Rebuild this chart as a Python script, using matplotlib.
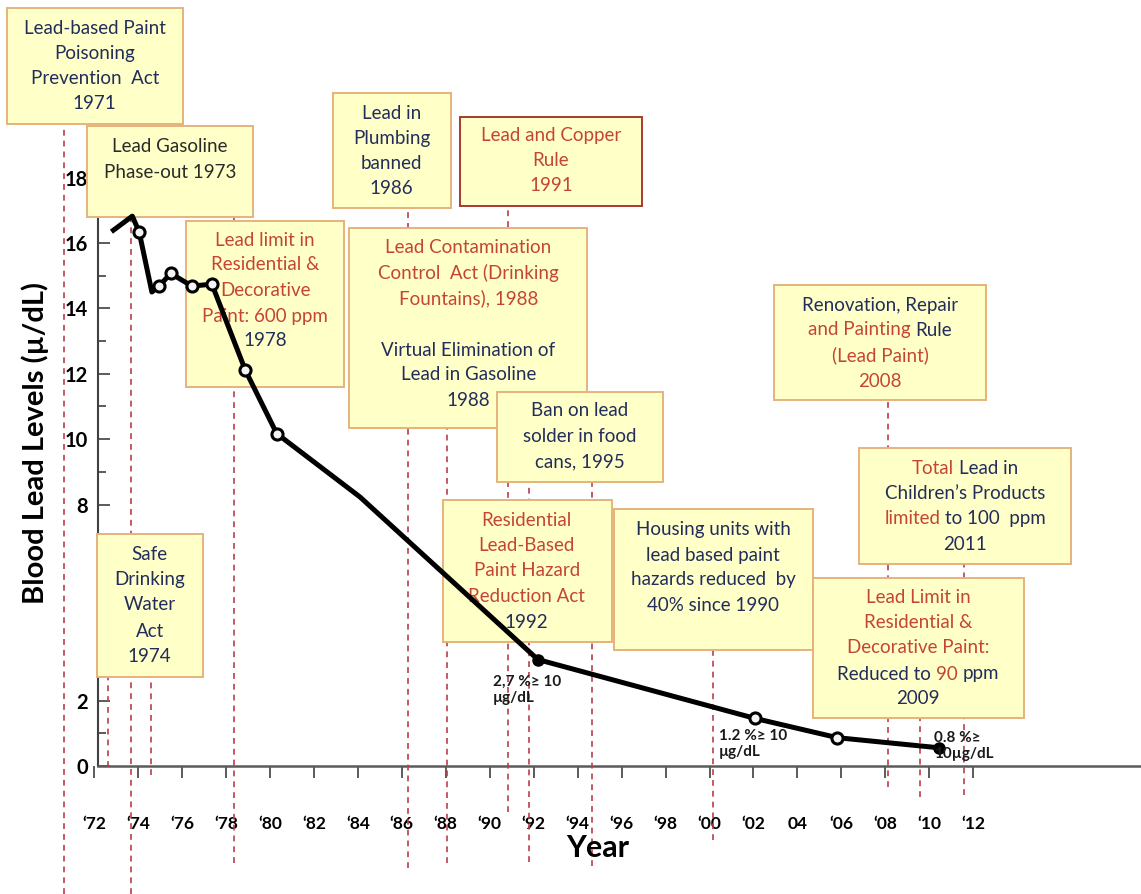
import matplotlib
matplotlib.use('Agg')
import matplotlib.pyplot as plt
import matplotlib.transforms as mtransforms
from matplotlib.patches import Rectangle

plt.rcParams['font.family'] = ['Lato', 'DejaVu Sans']

W, H = 1141, 894

# blood lead level (ug/dL)
years = [1972.88, 1973.74, 1974.05, 1974.63, 1974.97, 1975.49, 1976.45, 1977.36,
         1978.88, 1980.31, 1984.10, 1992.19, 2002.07, 2005.82, 2010.46]
lead = [16.39, 16.82, 16.34, 14.50, 14.69, 15.07, 14.68, 14.74,
        12.11, 10.17, 8.23, 3.26, 1.46, 0.87, 0.56]
ring_idx = [2, 4, 5, 6, 7, 8, 9, 12, 13]
dot_idx = [11, 14]

tick_years = list(range(1972, 2013, 2))
tick_labels = ['\u201872', '\u201874', '\u201876', '\u201878', '\u201880', '\u201882',
               '\u201884', '\u201886', '\u201888', '\u201890', '\u201892', '\u201894',
               '\u201896', '\u201898', '\u201800', '\u201802', '04', '\u201806',
               '\u201808', '\u201810', '\u201812']
y_ticks = [0, 2, 4, 6, 8, 10, 12, 14, 16, 18]
y_labels = ['0', '2', '', '', '8', '10', '12', '14', '16', '18']
y_minor = [1, 3, 5, 7, 9, 11, 13, 15, 17]

# dashed event lines: year, top and bottom (in ug/dL units)
event_x = [1970.64, 1973.69, 1972.64, 1974.60, 1978.37, 1986.29, 1988.06, 1990.84,
           1991.79, 1994.66, 2000.16, 2008.12, 2009.58, 2011.58]
event_top = [19.69, 16.79, 2.78, 2.78, 16.79, 17.09, 10.34, 17.09,
             8.72, 8.72, 3.55, 11.19, 1.47, 6.21]
event_bot = [-3.91, -3.91, -0.03, -0.28, -2.97, -3.12, -2.97, -1.41,
             -2.94, -3.06, -2.26, -0.64, -0.95, -0.89]

pct_labels = ['2,7 %\u2265 10\n\u00b5g/dL', '1.2 %\u2265 10\n\u00b5g/dL', '0.8 %\u2265\n10\u00b5g/dL']
pct_pos = [(493, 690), (719, 744), (934, 746)]

NAVY = '#222d5c'
RED = '#c5443a'
DARK = '#2a2a2a'
FILL = '#ffffc8'
EDGE = '#e6b27c'

# boxes: (left, top, right, bottom) in picture pixels, then lines (y, parts)
boxes = [
    ((6.7, 8.3, 182.7, 124), EDGE, 94.7,
     [(28.3, [('Lead-based Paint', NAVY)]), (53.3, [('Poisoning', NAVY)]),
      (78.3, [('Prevention  Act', NAVY)]), (103.3, [('1971', NAVY)])]),
    ((87.3, 126, 253.3, 217.3), EDGE, 170,
     [(146.7, [('Lead Gasoline', DARK)]), (172.3, [('Phase-out 1973', DARK)])]),
    ((185.7, 220.7, 344.3, 386.7), EDGE, 265,
     [(240, [('Lead limit in', RED)]), (265, [('Residential &', RED)]),
      (290, [('Decorative', RED)]), (316.7, [('Paint: 600 ppm', RED)]),
      (340, [('1978', NAVY)])]),
    ((96.7, 534.3, 202.7, 676.7), EDGE, 149.7,
     [(555, [('Safe', NAVY)]), (580, [('Drinking', NAVY)]), (605, [('Water', NAVY)]),
      (631.7, [('Act', NAVY)]), (656.7, [('1974', NAVY)])]),
    ((332.7, 93.3, 450.7, 208.3), EDGE, 391.7,
     [(113.3, [('Lead in', NAVY)]), (138.3, [('Plumbing', NAVY)]),
      (163.3, [('banned', NAVY)]), (189, [('1986', NAVY)])]),
    ((460, 116.7, 642.3, 206), '#a8392f', 551,
     [(136, [('Lead and Copper', RED)]), (160.7, [('Rule', RED)]), (185.7, [('1991', RED)])]),
    ((349.3, 228.3, 587.3, 428.3), EDGE, 468.3,
     [(247.7, [('Lead Contamination', RED)]), (272.7, [('Control  Act (Drinking', RED)]),
      (298.3, [('Fountains), 1988', RED)]), (350, [('Virtual Elimination of', NAVY)]),
      (375, [('Lead in Gasoline', NAVY)]), (400.7, [('1988', NAVY)])]),
    ((496.7, 391.7, 663.3, 481.7), EDGE, 580,
     [(410.7, [('Ban on lead', NAVY)]), (436, [('solder in food', NAVY)]),
      (462, [('cans, 1995', NAVY)])]),
    ((442.7, 500, 611.7, 642.3), EDGE, 526.7,
     [(520.7, [('Residential', RED)]), (545.7, [('Lead-Based', RED)]),
      (570.7, [('Paint Hazard', RED)]), (596.7, [('Reduction Act', RED)]),
      (622.7, [('1992', NAVY)])]),
    ((614, 509.3, 812.7, 650), EDGE, 713.3,
     [(530, [('Housing units with', NAVY)]), (555, [('lead based paint', NAVY)]),
      (580, [('hazards reduced  by', NAVY)]), (605.7, [('40% since 1990', NAVY)])]),
    ((774, 285, 985.7, 400), EDGE, 880,
     [(305, [('Renovation, Repair', NAVY)]),
      (330, [('and Painting', RED), (' Rule', NAVY)]),
      (355.7, [('(Lead Paint)', RED)]), (381.7, [('2008', RED)])]),
    ((859, 448.3, 1070.7, 564), EDGE, 965,
     [(468.3, [('Total', RED), (' Lead in', NAVY)]),
      (493.3, [('Children\u2019s Products', NAVY)]),
      (518.3, [('limited', RED), (' to 100  ppm', NAVY)]),
      (545, [('2011', NAVY)])]),
    ((812.7, 578.3, 1024, 718.3), EDGE, 918.3,
     [(597.3, [('Lead Limit in', RED)]), (622.3, [('Residential &', RED)]),
      (647.7, [('Decorative Paint:', RED)]),
      (674, [('Reduced to', NAVY), (' 90', RED), (' ppm', NAVY)]),
      (699, [('2009', NAVY)])]),
]

fig = plt.figure(figsize=(W / 100, H / 100), dpi=100)
ax = fig.add_axes([0, 0, 1, 1])
ax.set_xlim(1967.72, 2019.63)
ax.set_ylim(-3.91, 23.43)
ref = mtransforms.Affine2D().scale(1 / W, -1 / H).translate(0, 1) + fig.transFigure
renderer = fig.canvas.get_renderer()

# axes lines
y_axis_x = 1972.18
for s in ['top', 'right']:
    ax.spines[s].set_visible(False)
ax.spines['left'].set_position(('data', y_axis_x))
ax.spines['left'].set_bounds(0, 18.6)
ax.spines['left'].set_color('#404040')
ax.spines['left'].set_linewidth(1.5)
ax.spines['bottom'].set_position(('data', 0))
ax.spines['bottom'].set_bounds(y_axis_x, 2019.63)
ax.spines['bottom'].set_color('#5a5a5a')
ax.spines['bottom'].set_linewidth(1.8)

ax.set_yticks(y_ticks, y_labels)
ax.set_yticks(y_minor, minor=True)
ax.tick_params(axis='y', which='major', direction='in', length=8.6, width=1.2,
               pad=7, labelsize=14.5, color='#404040')
ax.tick_params(axis='y', which='minor', direction='in', length=5.5, width=1.2, color='#404040')
ax.set_xticks(tick_years, tick_labels)
ax.tick_params(axis='x', direction='out', length=8.6, width=1.2, pad=27.5,
               labelsize=12.5, color='#404040')
plt.setp(ax.get_yticklabels() + ax.get_xticklabels(), fontweight='bold')

ax.vlines(event_x, event_bot, event_top, colors='#b8404a', linestyles=(0, (3.5, 3)),
          linewidth=1.2, zorder=3)


def text_width(s, size):
    t = fig.text(0, 0, s, fontsize=size)
    w = t.get_window_extent(renderer).width
    t.remove()
    return w


def rich_line(xc, y, parts, size=13.5):
    full = ''.join(p for p, c in parts)
    total = text_width(full, size)
    bar = text_width('||', size)
    x = xc - total / 2
    pos = 0
    for s, c in parts:
        k = pos + len(s) - len(s.lstrip())
        off = text_width('|' + full[:k] + '|', size) - bar if k else 0
        ax.text(x + off, y, s.strip(), color=c, fontsize=size, ha='left', va='center',
                transform=ref, zorder=6)
        pos += len(s)


for (x0, y0, x1, y1), edge, xc, lines in boxes:
    ax.add_patch(Rectangle((x0, y0), x1 - x0, y1 - y0, transform=ref, facecolor=FILL,
                           edgecolor=edge, linewidth=1.4, zorder=5))
    for y, parts in lines:
        rich_line(xc, y, parts)

# blood lead curve
ax.plot(years, lead, color='black', linewidth=3.6, solid_joinstyle='round', zorder=7)
ax.plot([years[i] for i in ring_idx], [lead[i] for i in ring_idx], 'o', ms=8,
        mfc='#f4f4f4', mec='black', mew=2.2, zorder=8)
ax.plot([years[i] for i in dot_idx], [lead[i] for i in dot_idx], 'o', ms=8,
        color='black', zorder=8)

for s, (x, y) in zip(pct_labels, pct_pos):
    ax.text(x, y, s, transform=ref, fontsize=11, fontweight='bold', ha='left',
            va='center', linespacing=1.25, color='#1a1a1a', zorder=9)

ax.text(35, 443, 'Blood Lead Levels (\u00b5/dL)', transform=ref, rotation=90,
        fontsize=21, fontweight='bold', ha='center', va='center', color='black')
ax.text(598, 848, 'Year', transform=ref, fontsize=22, fontweight='bold',
        ha='center', va='center', color='black')

fig.savefig('out.png', dpi=100)
